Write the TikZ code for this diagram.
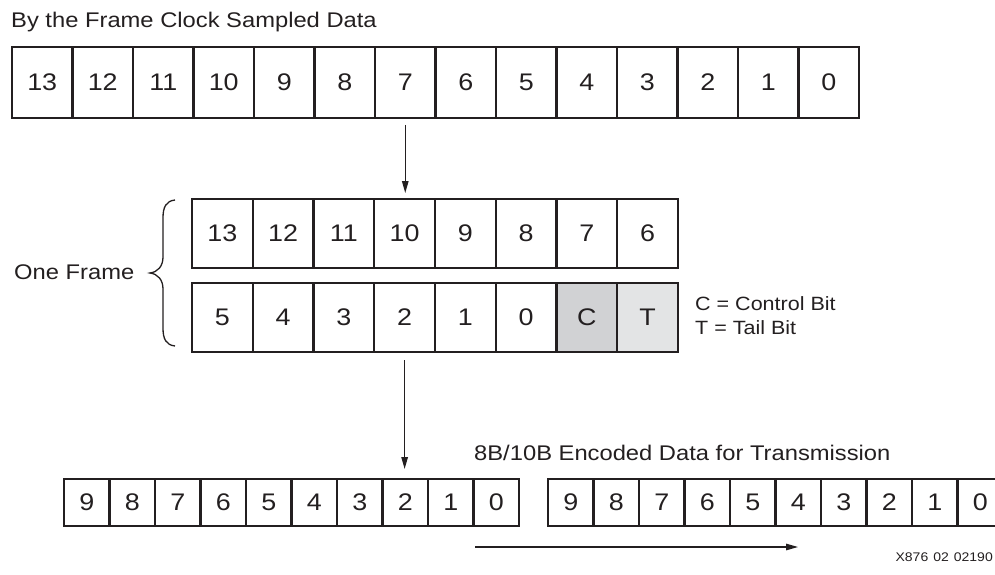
\documentclass[tikz,border=0pt]{standalone}
\usepackage{fontspec}
\setmainfont{Liberation Sans}[FakeStretch=1.12]
\usetikzlibrary{arrows.meta}
\definecolor{ink}{RGB}{35,31,32}
\definecolor{ctrlgray}{RGB}{209,210,212}
\definecolor{tailgray}{RGB}{227,228,229}

\begin{document}
\begin{tikzpicture}[x=1pt,y=-1pt,
  cell/.style={draw=ink, line width=2.4pt, inner sep=0pt, outer sep=0pt,
               text=ink, font=\fontsize{24}{28}\selectfont},
  bigcell/.style={cell, minimum width=60.5pt, minimum height=71pt},
  framecell/.style={cell, minimum width=60.75pt, minimum height=69pt},
  codecell/.style={cell, minimum width=45.5pt, minimum height=47pt},
  label/.style={anchor=base west, inner sep=0pt, text=ink,
                font=\fontsize{21.2}{25}\selectfont},
  note/.style={label, font=\fontsize{19.2}{23}\selectfont},
  tiny/.style={anchor=base east, inner sep=0pt, text=ink,
               font=\fontsize{12.5}{15}\selectfont},
  flow/.style={draw=ink, line width=1.3pt,
               -{Triangle[length=12pt,width=6.5pt]}}
]
\useasboundingbox (0,0) rectangle (995,575);

% sampled data word
\node[label] (title) at (11,27.5) {By the Frame Clock Sampled Data};
\foreach \b [count=\i from 0] in {13,12,...,0}
  \node[bigcell] (t\b) at ({12+(\i+0.5)*60.5}, 82.5) {\b};

% one frame: two rows of eight
\foreach \b [count=\i from 0] in {13,12,...,6}
  \node[framecell] (f\b) at ({192+(\i+0.5)*60.75}, 233.5) {\b};
\foreach \b [count=\i from 0] in {5,4,...,0}
  \node[framecell] (g\b) at ({192+(\i+0.5)*60.75}, 317.5) {\b};
\node[framecell, fill=ctrlgray] (gC) at ({192+6.5*60.75}, 317.5) {C};
\node[framecell, fill=tailgray] (gT) at ({192+7.5*60.75}, 317.5) {T};

\node[note] (cbit) at (695,310) {C = Control Bit};
\node[note] (tbit) at (695,334) {T = Tail Bit};

% brace and frame label
\draw[ink, line width=1.3pt]
  (175,200) .. controls (166,201) and (163,207) .. (163,218) -- (163,257)
  .. controls (163,266) and (158,272) .. (150,273)
  .. controls (158,274) and (163,280) .. (163,289) -- (163,328)
  .. controls (163,339) and (166,345) .. (175,346);
\node[label] (oneframe) at (14,279) {One Frame};

% encoded words
\node[label] (enc) at (474,460) {8B/10B Encoded Data for Transmission};
\foreach \b [count=\i from 0] in {9,8,...,0}
  \node[codecell] (p\b) at ({64+(\i+0.5)*45.5}, 502.5) {\b};
\foreach \b [count=\i from 0] in {9,8,...,0}
  \node[codecell] (q\b) at ({548+(\i+0.5)*45.5}, 502.5) {\b};

% connectors
\draw[flow, shorten <=7pt, shorten >=6pt] (t7.south) -- (t7.south |- f10.north);
\draw[flow, shorten <=8pt, shorten >=10pt] (g2.south) -- (g2.south |- p2.north);
\coordinate (s0) at (475,547);
\coordinate (s1) at (798,547);
\draw[flow] (s0) -- (s1);

\node[tiny] (fig) at (993,561) {X876\hspace{5pt}02\hspace{5pt}02190};
\end{tikzpicture}
\end{document}
